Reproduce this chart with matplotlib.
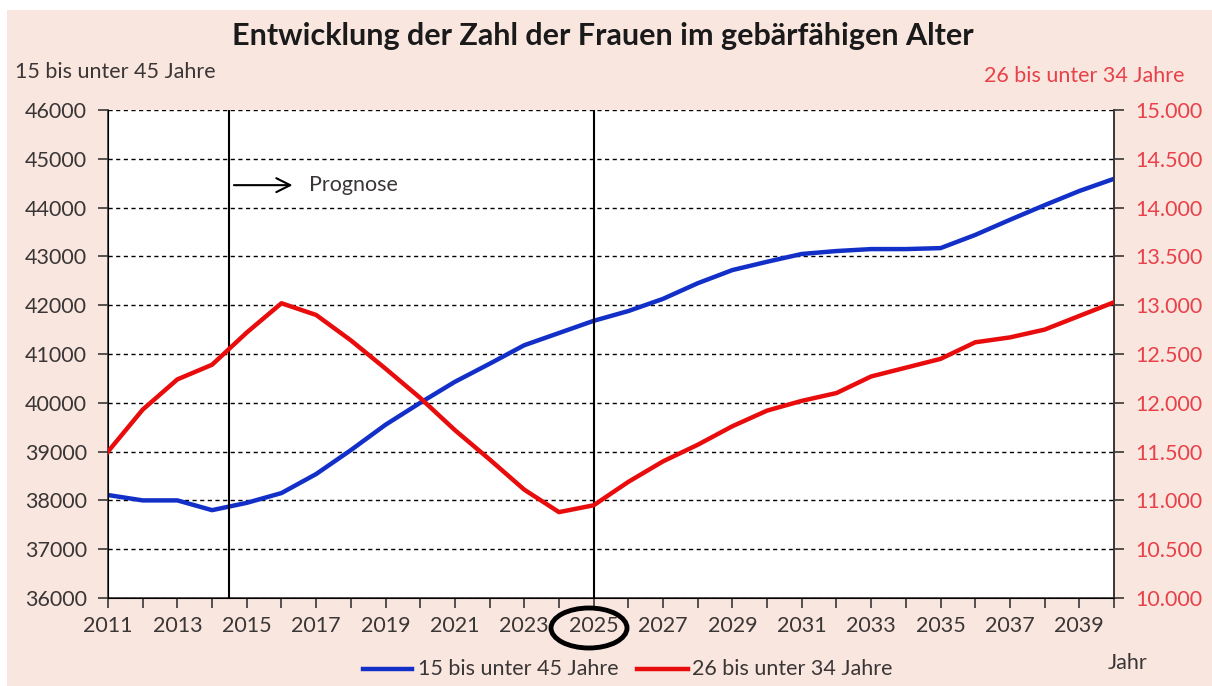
import matplotlib.pyplot as plt
import numpy as np
from matplotlib.patches import Ellipse, Rectangle

# Daten
jahre = list(range(2011, 2041))
frauen_15_45 = [38110, 38000, 38000, 37800, 37950, 38150, 38540, 39030, 39550, 40000,
                40430, 40800, 41180, 41430, 41680, 41880, 42130, 42450, 42720, 42890,
                43050, 43110, 43150, 43150, 43170, 43440, 43750, 44050, 44340, 44590]
frauen_26_34 = [11.50, 11.93, 12.24, 12.39, 12.72, 13.02, 12.90, 12.64, 12.35, 12.05,
                11.72, 11.42, 11.11, 10.88, 10.95, 11.19, 11.40, 11.57, 11.76, 11.92,
                12.02, 12.10, 12.27, 12.36, 12.45, 12.62, 12.67, 12.75, 12.89, 13.03]
links_ticks = list(range(36000, 46001, 1000))
rechts_ticks = [10.0, 10.5, 11.0, 11.5, 12.0, 12.5, 13.0, 13.5, 14.0, 14.5, 15.0]
rechts_labels = ['10.000', '10.500', '11.000', '11.500', '12.000', '12.500',
                 '13.000', '13.500', '14.000', '14.500', '15.000']

bg = '#f9e6df'
blau = '#1230c8'
rot = '#e80c0c'
rot_text = '#e8414a'
grau = '#3a3636'
fs = 15.5

plt.rcParams['font.family'] = ['Lato', 'DejaVu Sans']

fig = plt.figure(figsize=(12.12, 6.86), dpi=100)
fig.patch.set_facecolor('white')
fig.patches.append(Rectangle((7/1212, 0), 1, 1 - 10/686, transform=fig.transFigure,
                             facecolor=bg, edgecolor='none', zorder=-10))

ax = fig.add_axes([108/1212, 1 - 598/686, (1114 - 108)/1212, (598 - 110)/686])
ax.set_facecolor('white')
ax.plot(jahre, frauen_15_45, color=blau, lw=3.2, zorder=4)
ax.set_xlim(2011, 2040)
ax.set_ylim(36000, 46000)
ax.set_yticks(links_ticks)
ax.set_xticks(jahre)
ax.set_xticklabels([str(j) if j % 2 == 1 else '' for j in jahre])
ax.tick_params(axis='both', colors=grau, labelsize=fs, length=7, width=1.2)
ax.tick_params(axis='x', pad=6)
ax.tick_params(axis='y', pad=8)
ax.yaxis.grid(True, color='black', ls=(0, (3, 2.5)), lw=1)
ax.set_axisbelow(True)
ax.spines['top'].set_visible(False)
for s in ['left', 'bottom', 'right']:
    ax.spines[s].set_color(grau)
    ax.spines[s].set_linewidth(1.2)

ax2 = ax.twinx()
ax2.plot(jahre, frauen_26_34, color=rot, lw=3.2, zorder=4)
ax2.set_ylim(10, 15)
ax2.set_yticks(rechts_ticks)
ax2.set_yticklabels(rechts_labels)
ax2.tick_params(axis='y', colors=grau, labelcolor=rot_text, labelsize=fs, length=7,
                width=1.2, pad=8)
ax2.spines['top'].set_visible(False)
ax2.spines['right'].set_color(grau)
ax2.spines['right'].set_linewidth(1.2)

# Senkrechte Linien
ax.axvline(2014.5, color='black', lw=1.5, zorder=5)
ax.axvline(2025, color='black', lw=1.5, zorder=5)
ax.annotate('', xy=(2016.4, 44460), xytext=(2014.55, 44460),
            arrowprops=dict(arrowstyle='->', color='black', lw=1.5, mutation_scale=25))
ax.text(2016.8, 44460, 'Prognose', fontsize=fs, color=grau, va='center', ha='left')

# Texte
fig.text(603/1212, 1 - 36/686, 'Entwicklung der Zahl der Frauen im gebärfähigen Alter',
         fontsize=22, fontweight='bold', color='#1a1a1a', ha='center', va='center')
fig.text(15/1212, 1 - 72/686, '15 bis unter 45 Jahre', fontsize=fs, color=grau,
         ha='left', va='center')
fig.text(1185/1212, 1 - 76/686, '26 bis unter 34 Jahre', fontsize=fs, color=rot_text,
         ha='right', va='center')
fig.text(1108/1212, 1 - 663/686, 'Jahr', fontsize=fs, color=grau, ha='left', va='center')

# Legende
leg_y = 1 - 669/686
fig.add_artist(plt.Line2D([363/1212, 412/1212], [leg_y, leg_y], color=blau, lw=3.2,
                          transform=fig.transFigure))
fig.text(418/1212, leg_y, '15 bis unter 45 Jahre', fontsize=fs, color=grau,
         ha='left', va='center')
fig.add_artist(plt.Line2D([637/1212, 688/1212], [leg_y, leg_y], color=rot, lw=3.2,
                          transform=fig.transFigure))
fig.text(692/1212, leg_y, '26 bis unter 34 Jahre', fontsize=fs, color=grau,
         ha='left', va='center')

# Ellipse um 2025
fig.patches.append(Ellipse((589/1212, 1 - 628/686), 76/1212, 40/686, transform=fig.transFigure,
                           facecolor='none', edgecolor='black', lw=3.5, zorder=10))

fig.savefig('out.png', dpi=100, facecolor=fig.get_facecolor())
